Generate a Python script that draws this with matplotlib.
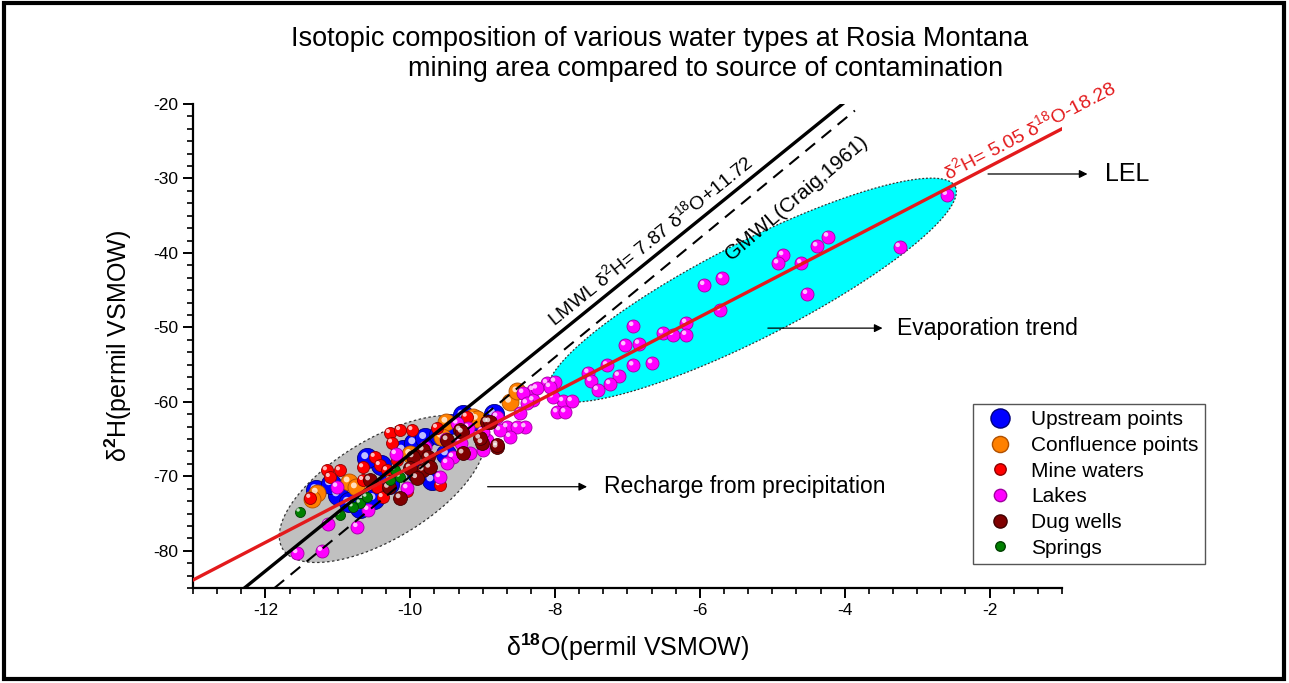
import matplotlib
matplotlib.use("Agg")
import matplotlib.pyplot as plt
import numpy as np
from matplotlib.ticker import MultipleLocator
from matplotlib.transforms import offset_copy
from matplotlib.patches import Rectangle
from matplotlib.lines import Line2D

plt.rcParams['font.family'] = ['Liberation Sans', 'DejaVu Sans']
plt.rcParams['mathtext.fontset'] = 'custom'
plt.rcParams['mathtext.rm'] = 'Liberation Sans'
plt.rcParams['mathtext.it'] = 'Liberation Sans:italic'
plt.rcParams['mathtext.bf'] = 'Liberation Sans:bold'
plt.rcParams['axes.unicode_minus'] = False

# ---- data ----
upstream_x = [-11.30, -11.00, -10.85, -10.70, -10.50, -10.30, -10.10, -9.95, -9.80, -9.60,
              -9.45, -9.27, -9.10, -8.85, -9.70, -9.90, -10.40, -10.60, -11.10, -9.50]
upstream_y = [-71.8, -72.5, -73.5, -74.3, -73.0, -71.0, -66.5, -65.5, -64.8, -64.5,
              -63.0, -61.8, -62.5, -61.6, -70.5, -69.5, -68.5, -67.5, -71.0, -67.0]

confluence_x = [-11.29, -11.35, -10.85, -10.75, -9.50, -9.13, -9.08, -8.62, -8.52, -9.56, -10.00]
confluence_y = [-72.2, -73.0, -70.7, -71.5, -62.7, -62.0, -62.3, -60.0, -58.6, -64.7, -67.0]

mine_x = [-10.28, -10.14, -9.97, -10.25, -10.49, -10.65, -11.15, -10.97, -11.11, -11.38,
          -10.42, -10.32, -10.46, -9.59, -9.22, -9.63, -10.65, -10.38, -10.18, -10.05]
mine_y = [-64.2, -63.8, -63.8, -65.5, -67.4, -68.8, -69.2, -69.2, -70.1, -72.9,
          -68.5, -69.2, -71.4, -71.2, -62.0, -63.5, -70.5, -72.8, -67.8, -72.0]

lakes_x = [-2.59, -3.24, -4.23, -4.38, -4.85, -4.92, -4.60, -4.52, -5.69, -5.94,
           -5.72, -6.92, -7.03, -6.84, -6.51, -6.37, -6.19, -6.19, -6.92, -6.66,
           -7.28, -7.12, -7.54, -7.50, -7.41, -7.24, -7.89, -7.97, -7.86, -7.77,
           -8.03, -8.11, -8.00, -8.30, -8.30, -8.44, -8.41, -8.48, -8.25, -8.07,
           -8.39, -8.66, -8.52, -8.62, -8.76, -8.94, -8.99, -9.17, -9.41, -9.49,
           -9.59, -9.35, -8.80, -11.56, -11.22, -10.73, -11.14, -11.01, -10.58, -10.04,
           -9.80, -9.50, -9.30, -9.00, -9.20, -10.20]
lakes_y = [-32.2, -39.2, -37.8, -39.1, -40.3, -41.4, -41.4, -45.5, -43.4, -44.3,
           -47.7, -49.8, -52.4, -52.2, -50.8, -51.0, -49.4, -51.0, -55.1, -54.8,
           -55.1, -56.5, -56.1, -57.2, -58.4, -57.6, -59.9, -61.4, -61.4, -59.9,
           -59.4, -57.5, -57.3, -58.4, -59.8, -58.8, -63.4, -61.5, -58.2, -58.0,
           -60.2, -63.4, -63.4, -64.7, -63.8, -65.1, -66.5, -66.9, -67.4, -68.2,
           -70.1, -62.9, -62.0, -80.3, -80.0, -76.8, -76.4, -71.4, -74.5, -71.6,
           -66.0, -65.0, -65.5, -64.0, -63.5, -67.0]

dug_x = [-9.82, -9.96, -9.75, -9.27, -8.80, -9.01, -8.94, -9.31, -9.49, -9.82,
         -9.73, -10.00, -9.91, -10.14, -10.56, -8.90, -8.80, -9.28, -9.04, -10.30]
dug_y = [-66.5, -67.4, -67.4, -66.9, -66.1, -65.5, -62.7, -63.8, -65.1, -69.2,
         -68.8, -68.9, -70.2, -72.9, -70.5, -62.7, -65.8, -64.1, -64.9, -71.5]

springs_x = [-11.52, -10.97, -10.69, -10.60, -10.28, -10.14, -10.21, -10.79]
springs_y = [-74.8, -75.2, -73.6, -72.8, -70.5, -70.1, -69.2, -74.1]

# reference lines: slope, intercept, x range
lmwl = (7.87, 11.72, -12.30, -4.03)
gmwl = (8.0, 10.0, -11.875, -3.86)
lel = (5.05, -18.28, -13.0, -1.0)

# ---- figure ----
fig = plt.figure(figsize=(12.89, 6.83), dpi=100)
ax = fig.add_axes([193 / 1289, 1 - 588 / 683, (1062 - 193) / 1289, (588 - 104) / 683])
ax.set_xlim(-13, -1)
ax.set_ylim(-85, -20)

# px per data unit (so tilted ellipses look right on screen)
sx = (1062 - 193) / 12.0
sy = (588 - 104) / 65.0


def screen_ellipse(cx, cy, a, b, ang, **kw):
    t = np.linspace(0, 2 * np.pi, 300)
    th = np.radians(ang)
    ex = cx + (a * np.cos(t) * np.cos(th) - b * np.sin(t) * np.sin(th)) / sx
    ey = cy + (a * np.cos(t) * np.sin(th) + b * np.sin(t) * np.cos(th)) / sy
    ax.fill(ex, ey, **kw)


screen_ellipse(-10.39, -71.7, 116, 50, 31, facecolor='#c0c0c0', edgecolor='#333333',
               linestyle=(0, (2, 2)), linewidth=0.9, zorder=1)
screen_ellipse(-5.28, -45.0, 228, 48, 27, facecolor='#00ffff', edgecolor='#333333',
               linestyle=(0, (1.5, 1.5)), linewidth=0.9, zorder=1)

# sample groups drawn as shaded balls
groups = [
    (upstream_x, upstream_y, '#0000ff', '#00007a', 210, 'Upstream points'),
    (confluence_x, confluence_y, '#ff8000', '#b05000', 150, 'Confluence points'),
    (mine_x, mine_y, '#ff0000', '#900000', 75, 'Mine waters'),
    (lakes_x, lakes_y, '#ff00ff', '#a000a0', 88, 'Lakes'),
    (dug_x, dug_y, '#800000', '#400000', 100, 'Dug wells'),
    (springs_x, springs_y, '#008000', '#004000', 52, 'Springs'),
]
hl = offset_copy(ax.transData, fig=fig, x=-1.5, y=1.5, units='points')
handles = []
for i, (gx, gy, col, edge, s, lab) in enumerate(groups):
    ax.scatter(gx, gy, s=s, c=col, edgecolors=edge, linewidths=0.6, zorder=3 + i * 0.1)
    ax.scatter(gx, gy, s=s * 0.12, c='white', alpha=0.75, edgecolors='none',
               transform=hl, zorder=3.05 + i * 0.1)
    handles.append(Line2D([], [], marker='o', linestyle='none', markersize=np.sqrt(s) * 0.95,
                          markerfacecolor=col, markeredgecolor=edge, label=lab))

# lines
for (m, c, x0, x1), col, ls in [(lmwl, 'black', '-'), (gmwl, 'black', (0, (6, 4))),
                                (lel, '#e31a1c', '-')]:
    xx = np.array([x0, x1])
    ax.plot(xx, m * xx + c, color=col, linestyle=ls, linewidth=2.4 if ls == '-' else 1.5,
            zorder=5)

ax.text(-6.69, -38.3, 'LMWL δ$^{2}$H= 7.87 δ$^{18}$O+11.72', rotation=39,
        ha='center', va='center', fontsize=14, rotation_mode='anchor')
ax.text(-4.66, -32.6, 'GMWL(Craig,1961)', rotation=40.5, ha='center', va='center',
        fontsize=15, rotation_mode='anchor')
ax.text(-1.45, -23.5, 'δ$^{2}$H= 5.05 δ$^{18}$O-18.28', rotation=27.5,
        ha='center', va='center', fontsize=14, color='#e31a1c', rotation_mode='anchor',
        clip_on=False)

# arrows with notes
notes = [(-8.97, -7.52, -71.4, -7.32, 'Recharge from precipitation', 16.5),
         (-5.10, -3.44, -50.1, -3.28, 'Evaporation trend', 16.5),
         (-2.06, -0.61, -29.4, -0.40, 'LEL', 18)]
for xa, xb, yy, xt, txt, fs in notes:
    ax.annotate('', xy=(xb, yy), xytext=(xa, yy), annotation_clip=False,
                arrowprops=dict(arrowstyle='-|>', color='black', lw=0.9,
                                mutation_scale=12))
    ax.text(xt, yy, txt, ha='left', va='center', fontsize=fs, clip_on=False)

# axes styling (Origin look)
for sp in ['top', 'right']:
    ax.spines[sp].set_visible(False)
for sp in ['left', 'bottom']:
    ax.spines[sp].set_linewidth(1.6)
ax.xaxis.set_major_locator(MultipleLocator(2))
ax.xaxis.set_minor_locator(MultipleLocator(2 / 6))
ax.yaxis.set_major_locator(MultipleLocator(10))
ax.yaxis.set_minor_locator(MultipleLocator(10 / 6))
ax.tick_params(which='major', direction='out', length=7, width=1.4, labelsize=12.5)
ax.tick_params(which='minor', direction='out', length=4, width=1.2)
ax.set_xlabel('δ$^{\\mathbf{18}}$O(permil VSMOW)', fontsize=18, labelpad=10)
ax.set_ylabel('δ$^{\\mathbf{2}}$H(permil VSMOW)', fontsize=18, labelpad=14)

fig.text(0.512, 0.962, 'Isotopic composition of various water types at Rosia Montana',
         ha='center', va='top', fontsize=19.5)
fig.text(0.547, 0.918, 'mining area compared to source of contamination',
         ha='center', va='top', fontsize=19.5)

leg = ax.legend(handles=handles, loc='upper left', bbox_to_anchor=(973 / 1289, 1 - 404 / 683),
                bbox_transform=fig.transFigure, borderaxespad=0, fontsize=15,
                fancybox=False, edgecolor='#555555', framealpha=1, handletextpad=0.5,
                labelspacing=0.32, borderpad=0.3)
leg.set_zorder(10)

fig.patches.append(Rectangle((0.003, 0.006), 0.993, 0.99, transform=fig.transFigure,
                             fill=False, edgecolor='black', linewidth=3))

fig.savefig('out.png', dpi=100)
